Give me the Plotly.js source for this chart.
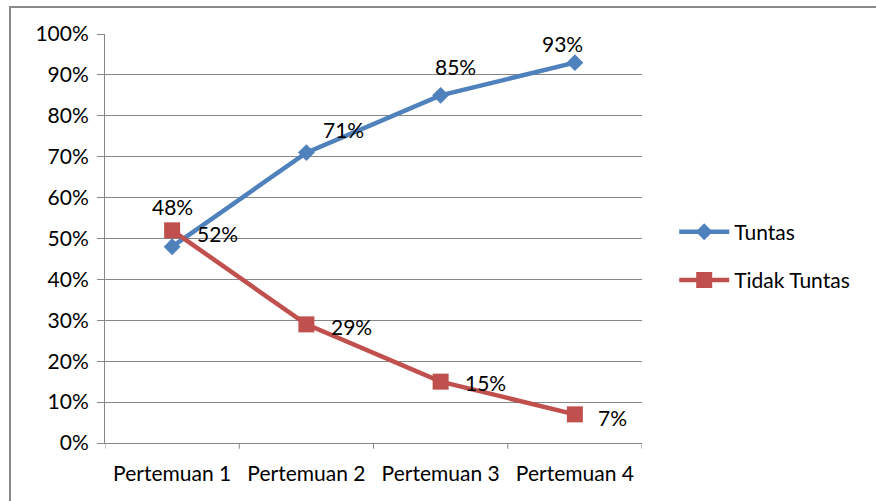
<!DOCTYPE html>
<html>
<head>
<meta charset="utf-8">
<script src="https://cdn.plot.ly/plotly-3.0.1.min.js"></script>
<style>
  html, body { margin: 0; padding: 0; background: #fff; }
  #wrap { position: relative; width: 876px; height: 501px; overflow: hidden; }
  #frame { position: absolute; left: 9px; top: 6px; width: 900px; height: 520px; border: 2px solid #8a8a8a; box-sizing: border-box; pointer-events: none; z-index: 2; }
  #chart { position: absolute; left: 0; top: 0; width: 876px; height: 501px; }
</style>
</head>
<body>
<div id="wrap">
  <div id="chart"></div>
  <div id="frame"></div>
</div>
<script>
const categories = ["Pertemuan 1", "Pertemuan 2", "Pertemuan 3", "Pertemuan 4"];
const tuntas = [0.48, 0.71, 0.85, 0.93];
const tidakTuntas = [0.52, 0.29, 0.15, 0.07];
const seriesNames = ["Tuntas", "Tidak Tuntas"];
const yTickVals = [0, 0.1, 0.2, 0.3, 0.4, 0.5, 0.6, 0.7, 0.8, 0.9, 1.0];

const FONT = "Lato, 'Open Sans', sans-serif";
const FS = 21;
const BLUE = "#4F81BD";
const RED = "#C0504D";

const traces = [
  {
    x: categories, y: tuntas, name: seriesNames[0], type: "scatter", mode: "lines+markers",
    legendgroup: "a",
    line: { color: BLUE, width: 4.5 },
    marker: { symbol: "diamond", size: 13, color: BLUE }
  },
  {
    x: categories, y: tidakTuntas, name: seriesNames[1], type: "scatter", mode: "lines+markers",
    legendgroup: "b",
    line: { color: RED, width: 4.5 },
    marker: { symbol: "square", size: 16, color: RED }
  }
];

const fmt = v => Math.round(v * 100) + "%";
const tOff = [[0, 40], [37, 23], [15, 29], [-12, 19]];
const rOff = [[45, -3], [45, -2], [45, -1], [38, -3]];
const annotations = [];
categories.forEach((c, i) => {
  annotations.push({ x: c, y: tuntas[i], text: fmt(tuntas[i]), showarrow: false,
    xshift: tOff[i][0], yshift: tOff[i][1], font: { family: FONT, size: FS, color: "#000" } });
  annotations.push({ x: c, y: tidakTuntas[i], text: fmt(tidakTuntas[i]), showarrow: false,
    xshift: rOff[i][0], yshift: rOff[i][1], font: { family: FONT, size: FS, color: "#000" } });
});

const layout = {
  width: 876, height: 501,
  margin: { l: 105, r: 234, t: 34, b: 58, pad: 0 },
  paper_bgcolor: "#fff", plot_bgcolor: "#fff",
  font: { family: FONT, size: FS, color: "#000" },
  showlegend: true,
  legend: { x: 1.06, y: 0.457, xanchor: "left", yanchor: "middle", font: { family: FONT, size: FS },
    traceorder: "grouped", tracegroupgap: 18, itemwidth: 50, bgcolor: "rgba(0,0,0,0)" },
  xaxis: {
    type: "category", range: [-0.5, 3.5], showgrid: false, zeroline: false,
    showline: true, linecolor: "#868686", linewidth: 1,
    ticks: "", tickfont: { family: FONT, size: FS }, ticklabelstandoff: 12, fixedrange: true
  },
  yaxis: {
    range: [0, 1], tickvals: yTickVals, tickformat: ".0%",
    showgrid: true, gridcolor: "#868686", gridwidth: 1, zeroline: false,
    showline: true, linecolor: "#868686", linewidth: 1,
    ticks: "outside", ticklen: 7, tickcolor: "#868686",
    tickfont: { family: FONT, size: FS }, ticklabelstandoff: 4, fixedrange: true
  },
  shapes: [0, 1, 2, 3, 4].map(k => ({
    type: "line", xref: "x", yref: "paper", x0: k - 0.5, x1: k - 0.5, y0: 0, y1: -0.014,
    line: { color: "#868686", width: 1 }
  })),
  annotations: annotations
};

Plotly.newPlot("chart", traces, layout, { staticPlot: true, displayModeBar: false });
</script>
</body>
</html>
